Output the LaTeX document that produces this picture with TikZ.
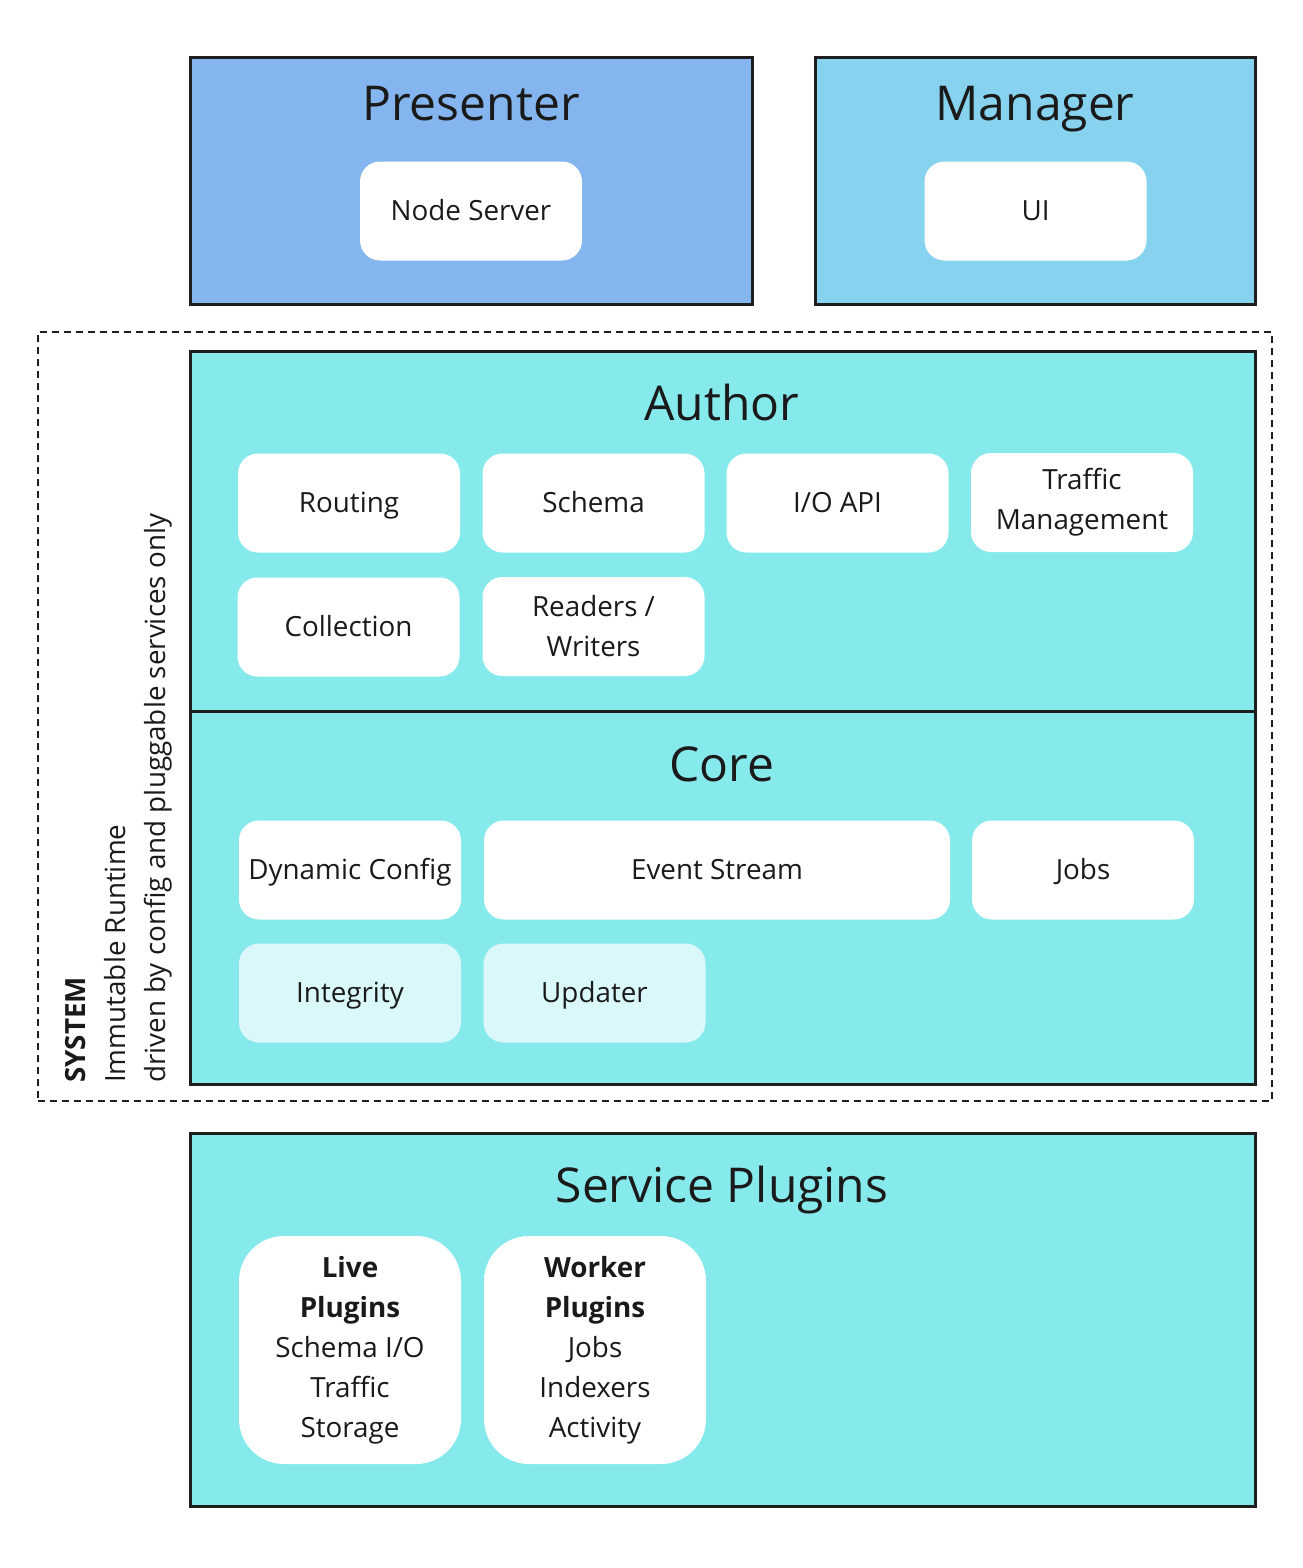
\documentclass[tikz,border=0pt]{standalone}
\usepackage{fontspec}
\setmainfont{Open Sans}
\definecolor{presc}{HTML}{84B5EE}
\definecolor{manc}{HTML}{87D3EF}
\definecolor{cyanc}{HTML}{86EAED}
\definecolor{lightc}{HTML}{DAF8FA}
\definecolor{edge}{HTML}{1E1E1E}
\definecolor{ink}{HTML}{1A1A1A}
\begin{document}
\begin{tikzpicture}[x=1pt,y=-1pt,
  every node/.style={text=ink},
  panel/.style={draw=edge, line width=3pt, inner sep=0pt},
  ttl/.style={font=\fontsize{48}{56}\selectfont, inner sep=0pt, text height=34pt, text depth=0pt},
  ib/.style={fill=white, rounded corners=20pt, minimum width=222pt, minimum height=99pt, inner sep=0pt, font=\fontsize{27.8}{40}\selectfont, align=center},
  one/.style={text height=19.8pt, text depth=0pt},
  lb/.style={ib, fill=lightc},
  pb/.style={ib, rounded corners=45pt, minimum height=228pt},
]
\useasboundingbox (0,0) rectangle (1302,1568);

% top panels
\node[panel, fill=presc, minimum width=562pt, minimum height=246pt] (presenter) at (471,181) {};
\node[panel, fill=manc, minimum width=440pt, minimum height=246pt] (manager) at (1035,181) {};
\node[ttl] (ptitle) at (471,104) {Presenter};
\node[ttl] (mtitle) at (1035,104) {Manager};
\node[ib, one] (nodeserver) at (471,211) {Node Server};
\node[ib, one] (ui) at (1035.5,211) {UI};

% system dashed frame
\node[draw=edge, line width=1.5pt, dash pattern=on 7pt off 5pt, minimum width=1234pt, minimum height=769pt, inner sep=0pt] (system) at (655,716.5) {};
\node[rotate=90, anchor=north west, inner sep=0pt, align=left, font=\fontsize{27.8}{40}\selectfont] (systxt) at (65,1083) {\textbf{SYSTEM}\\Immutable Runtime\\driven by config and pluggable services only};

% author / core
\node[panel, fill=cyanc, minimum width=1065pt, minimum height=360pt] (author) at (722.5,531) {};
\node[panel, fill=cyanc, minimum width=1065pt, minimum height=373pt] (core) at (722.5,897.5) {};
\node[ttl] (atitle) at (722,403) {Author};
\node[ttl] (ctitle) at (722,764) {Core};

\node[ib, one] (routing) at (349,503) {Routing};
\node[ib, one] (schema) at (593.5,503) {Schema};
\node[ib, one] (ioapi) at (837.5,503) {I/O API};
\node[ib] (traffic) at (1082,502.5) {Traffic\\Management};
\node[ib, one] (collection) at (348.5,627) {Collection};
\node[ib] (readers) at (593.5,626.5) {Readers /\\Writers};

\node[ib, one] (dynconf) at (350,870) {Dynamic Config};
\node[ib, one, minimum width=466pt] (events) at (717,870) {Event Stream};
\node[ib, one] (jobs) at (1083,870) {Jobs};
\node[lb, one] (integrity) at (350,993) {Integrity};
\node[lb, one] (updater) at (594.5,993) {Updater};

% service plugins
\node[panel, fill=cyanc, minimum width=1065pt, minimum height=373pt] (service) at (722.5,1319.5) {};
\node[ttl] (stitle) at (722,1185) {Service Plugins};
\node[pb] (live) at (350,1350) {\textbf{Live}\\\textbf{Plugins}\\Schema I/O\\Traffic\\Storage};
\node[pb] (worker) at (595,1350) {\textbf{Worker}\\\textbf{Plugins}\\Jobs\\Indexers\\Activity};
\end{tikzpicture}
\end{document}
